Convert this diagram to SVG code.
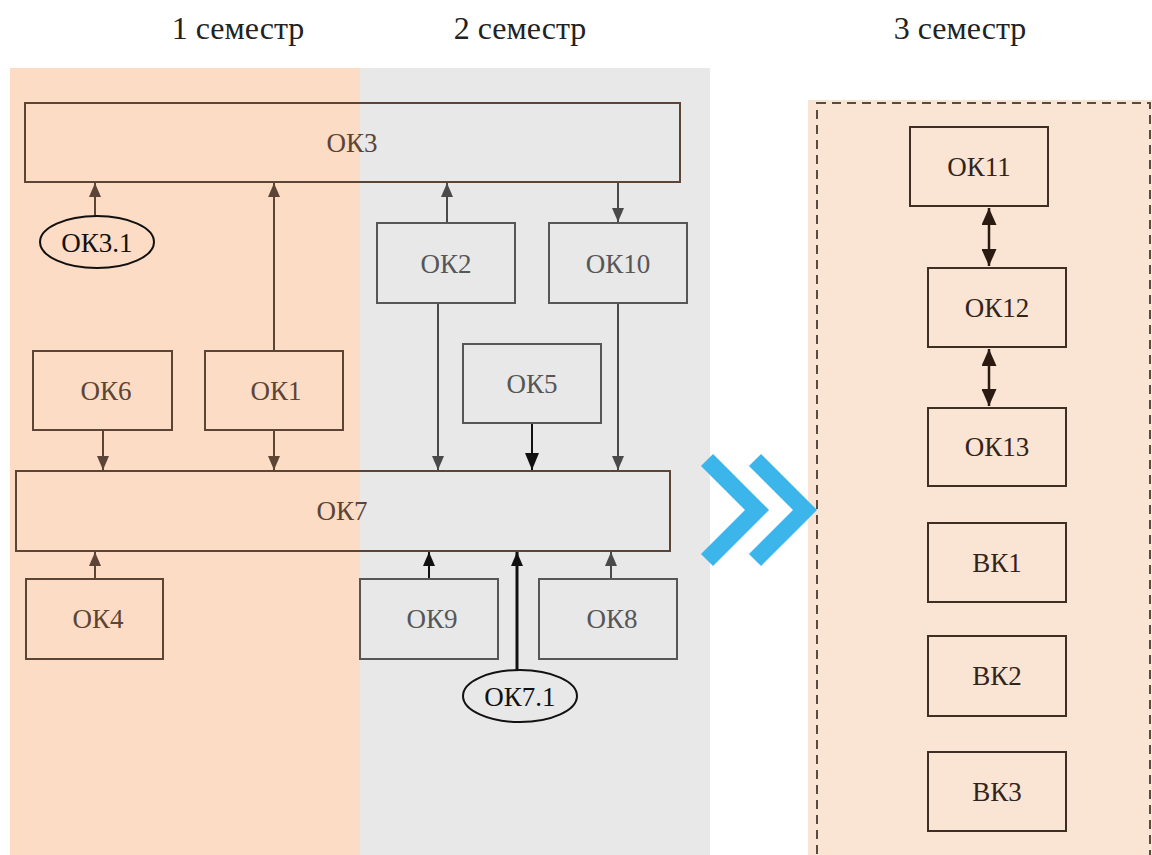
<svg xmlns="http://www.w3.org/2000/svg" width="1152" height="855" viewBox="0 0 1152 855">
<style>
.hdr{font-family:"Liberation Serif","Times New Roman",serif;font-size:32px;fill:#222;text-anchor:middle}
svg g text.lbl{font-family:"Liberation Serif","Times New Roman",serif !important;font-size:27px;text-anchor:middle}
.bL{fill:none;stroke:#5c4436;stroke-width:2}
.bG{fill:none;stroke:#565656;stroke-width:2}
.bR{fill:none;stroke:#3e2e24;stroke-width:2}
.tL{fill:#5c4436}
.tG{fill:#565656}
.tR{fill:#33241b}
.tK{fill:#111}
.cL{stroke:#5c4436;stroke-width:2;fill:none}
.cG{stroke:#4a4a4a;stroke-width:2;fill:none}
.cK{stroke:#111;stroke-width:2;fill:none}
.cK3{stroke:#111;stroke-width:3;fill:none}
.cR{stroke:#2a1a12;stroke-width:2.5;fill:none}
</style>
<defs>
<marker id="aL" viewBox="0 0 10 10" refX="10" refY="5" markerWidth="14" markerHeight="12" orient="auto" markerUnits="userSpaceOnUse" preserveAspectRatio="none"><path d="M0,0 L10,5 L0,10 z" fill="#5c4436"/></marker>
<marker id="aG" viewBox="0 0 10 10" refX="10" refY="5" markerWidth="14" markerHeight="12" orient="auto" markerUnits="userSpaceOnUse" preserveAspectRatio="none"><path d="M0,0 L10,5 L0,10 z" fill="#4a4a4a"/></marker>
<marker id="aK" viewBox="0 0 10 10" refX="10" refY="5" markerWidth="14" markerHeight="12" orient="auto" markerUnits="userSpaceOnUse" preserveAspectRatio="none"><path d="M0,0 L10,5 L0,10 z" fill="#111"/></marker>
<marker id="aKB" viewBox="0 0 10 10" refX="10" refY="5" markerWidth="17" markerHeight="14" orient="auto-start-reverse" markerUnits="userSpaceOnUse" preserveAspectRatio="none"><path d="M0,0 L10,5 L0,10 z" fill="#111"/></marker>
<marker id="aRB" viewBox="0 0 10 10" refX="10" refY="5" markerWidth="17" markerHeight="15" orient="auto-start-reverse" markerUnits="userSpaceOnUse" preserveAspectRatio="none"><path d="M0,0 L10,5 L0,10 z" fill="#2a1a12"/></marker>
</defs>
<rect width="1152" height="855" fill="#fff"/>
<g id="backgrounds">
<rect x="10" y="68" width="350" height="787" fill="#fcdcc4"/>
<rect x="360" y="68" width="350" height="787" fill="#e8e8e8"/>
<rect x="808" y="100" width="344" height="755" fill="#fae4d4"/>
<rect x="817" y="103" width="333" height="770" fill="none" stroke="#5a4a40" stroke-width="2" stroke-dasharray="9 6"/>
</g>
<g id="headers">
<text class="hdr" x="238" y="39">1 семестр</text>
<text class="hdr" x="520" y="39">2 семестр</text>
<text class="hdr" x="960" y="39">3 семестр</text>
</g>
<g id="chevrons" fill="none" stroke="#3cb6ea" stroke-width="17" stroke-linejoin="miter" stroke-miterlimit="4">
<polyline points="707,460 757,510 707,560"/>
<polyline points="755,460 805,510 755,560"/>
</g>
<g id="connectors">
<line class="cL" x1="95" y1="216" x2="95" y2="183" marker-end="url(#aL)"/>
<line class="cL" x1="274" y1="351" x2="274" y2="183" marker-end="url(#aL)"/>
<line class="cG" x1="447" y1="223" x2="447" y2="183" marker-end="url(#aG)"/>
<line class="cG" x1="618" y1="182" x2="618" y2="222" marker-end="url(#aG)"/>
<line class="cL" x1="103" y1="430" x2="103" y2="470" marker-end="url(#aL)"/>
<line class="cL" x1="274" y1="430" x2="274" y2="470" marker-end="url(#aL)"/>
<line class="cG" x1="438" y1="303" x2="438" y2="470" marker-end="url(#aG)"/>
<line class="cG" x1="618" y1="303" x2="618" y2="470" marker-end="url(#aG)"/>
<line class="cK" x1="532" y1="423" x2="532" y2="470" marker-end="url(#aKB)"/>
<line class="cL" x1="95" y1="579" x2="95" y2="552" marker-end="url(#aL)"/>
<line class="cK" x1="429" y1="579" x2="429" y2="552" marker-end="url(#aK)"/>
<line class="cG" x1="611" y1="579" x2="611" y2="552" marker-end="url(#aG)"/>
<line class="cK3" x1="517" y1="670" x2="517" y2="552" marker-end="url(#aK)"/>
<line class="cR" x1="989" y1="208" x2="989" y2="266" marker-start="url(#aRB)" marker-end="url(#aRB)"/>
<line class="cR" x1="989" y1="349" x2="989" y2="406" marker-start="url(#aRB)" marker-end="url(#aRB)"/>
</g>
<g id="OK3"><rect class="bL" x="25" y="103" width="655" height="79"/><text class="lbl tL" x="352" y="152">ОК3</text></g>
<g id="OK3.1"><ellipse cx="97" cy="242" rx="57" ry="26" fill="none" stroke="#111" stroke-width="2"/><text class="lbl tK" x="97" y="252">ОК3.1</text></g>
<g id="OK2"><rect class="bG" x="377" y="223" width="138" height="80"/><text class="lbl tG" x="446" y="273">ОК2</text></g>
<g id="OK10"><rect class="bG" x="549" y="223" width="138" height="80"/><text class="lbl tG" x="618" y="273">ОК10</text></g>
<g id="OK6"><rect class="bL" x="33" y="351" width="139" height="79"/><text class="lbl tL" x="106" y="400">ОК6</text></g>
<g id="OK1"><rect class="bL" x="205" y="351" width="138" height="79"/><text class="lbl tL" x="276" y="400">ОК1</text></g>
<g id="OK5"><rect class="bG" x="463" y="344" width="138" height="79"/><text class="lbl tG" x="532" y="393">ОК5</text></g>
<g id="OK7"><rect class="bL" x="16" y="471" width="654" height="80"/><text class="lbl tL" x="342" y="520">ОК7</text></g>
<g id="OK4"><rect class="bL" x="26" y="579" width="137" height="80"/><text class="lbl tL" x="98" y="628">ОК4</text></g>
<g id="OK9"><rect class="bG" x="360" y="579" width="138" height="80"/><text class="lbl tG" x="432" y="628">ОК9</text></g>
<g id="OK8"><rect class="bG" x="539" y="579" width="138" height="80"/><text class="lbl tG" x="612" y="628">ОК8</text></g>
<g id="OK7.1"><ellipse cx="520" cy="696" rx="57" ry="26" fill="none" stroke="#111" stroke-width="2"/><text class="lbl tK" x="520" y="706">ОК7.1</text></g>
<g id="OK11"><rect class="bR" x="910" y="127" width="138" height="79"/><text class="lbl tR" x="979" y="176">ОК11</text></g>
<g id="OK12"><rect class="bR" x="928" y="268" width="138" height="79"/><text class="lbl tR" x="997" y="317">ОК12</text></g>
<g id="OK13"><rect class="bR" x="928" y="408" width="138" height="78"/><text class="lbl tR" x="997" y="456">ОК13</text></g>
<g id="BK1"><rect class="bR" x="928" y="523" width="138" height="79"/><text class="lbl tR" x="997" y="572">ВК1</text></g>
<g id="BK2"><rect class="bR" x="928" y="636" width="138" height="80"/><text class="lbl tR" x="997" y="685">ВК2</text></g>
<g id="BK3"><rect class="bR" x="928" y="752" width="138" height="79"/><text class="lbl tR" x="997" y="801">ВК3</text></g>
</svg>
